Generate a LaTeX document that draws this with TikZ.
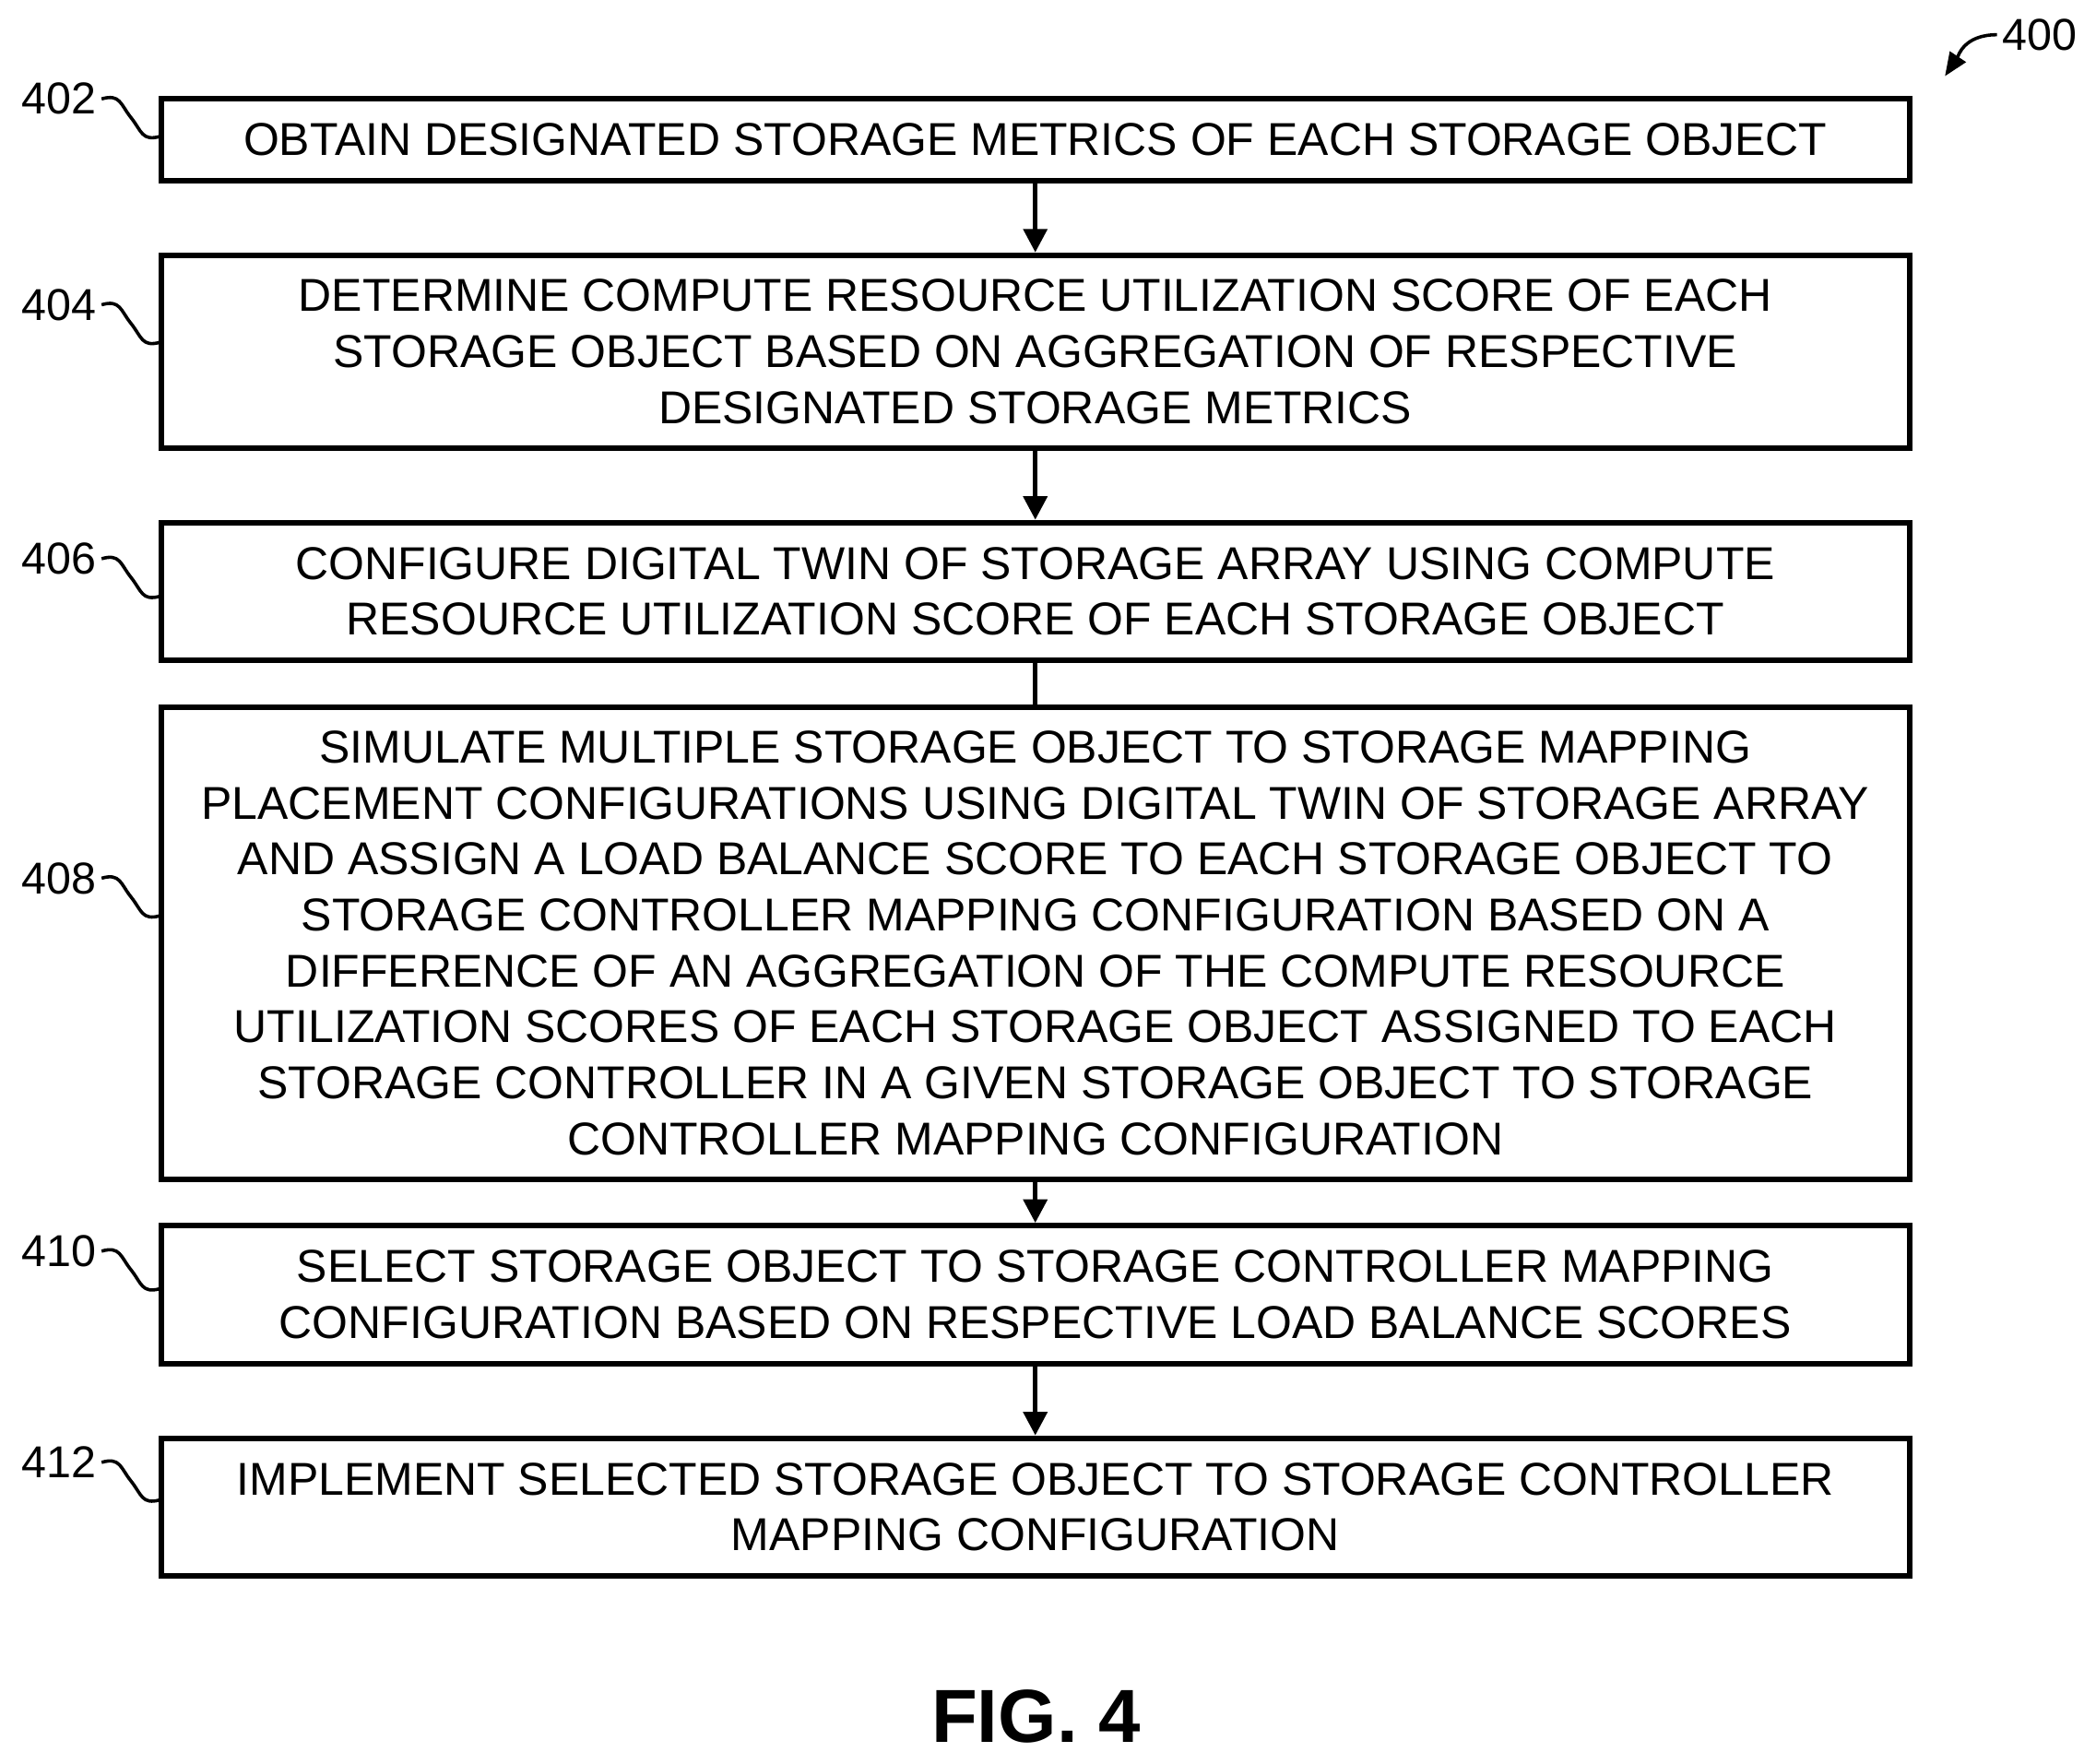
\documentclass[tikz,border=0pt]{standalone}
\usepackage{fontspec}
\setmainfont{Liberation Sans}
\usetikzlibrary{arrows.meta,positioning,calc}
\tikzset{
  stepbox/.style={draw, line width=1.2pt, minimum width=13.07cm, align=center,
               inner sep=0pt, font=\fontsize{9.8}{11.9}\selectfont},
  flow/.style={-{Triangle[length=5pt,width=5pt]}, line width=1pt},
  tag/.style={font=\fontsize{9.5}{11}\selectfont, inner sep=1pt},
  squig/.style={line width=0.7pt}
}
\begin{document}
\begin{tikzpicture}[x=0.01cm,y=-0.01cm]
  \useasboundingbox (0,0) rectangle (1568,1319);

  \node (s402) [stepbox, minimum height=0.61cm] at (774.5,104.5)
    {OBTAIN DESIGNATED STORAGE METRICS OF EACH STORAGE OBJECT};
  \node (s404) [stepbox, minimum height=1.44cm] at (774.5,263)
    {DETERMINE COMPUTE RESOURCE UTILIZATION SCORE OF EACH\\
     STORAGE OBJECT BASED ON AGGREGATION OF RESPECTIVE\\
     DESIGNATED STORAGE METRICS};
  \node (s406) [stepbox, minimum height=1.03cm] at (774.5,442.5)
    {CONFIGURE DIGITAL TWIN OF STORAGE ARRAY USING COMPUTE\\
     RESOURCE UTILIZATION SCORE OF EACH STORAGE OBJECT};
  \node (s408) [stepbox, minimum height=3.53cm] at (774.5,705.5)
    {SIMULATE MULTIPLE STORAGE OBJECT TO STORAGE MAPPING\\
     PLACEMENT CONFIGURATIONS USING DIGITAL TWIN OF STORAGE ARRAY\\
     AND ASSIGN A LOAD BALANCE SCORE TO EACH STORAGE OBJECT TO\\
     STORAGE CONTROLLER MAPPING CONFIGURATION BASED ON A\\
     DIFFERENCE OF AN AGGREGATION OF THE COMPUTE RESOURCE\\
     UTILIZATION SCORES OF EACH STORAGE OBJECT ASSIGNED TO EACH\\
     STORAGE CONTROLLER IN A GIVEN STORAGE OBJECT TO STORAGE\\
     CONTROLLER MAPPING CONFIGURATION};
  \node (s410) [stepbox, minimum height=1.03cm] at (774.5,968.5)
    {SELECT STORAGE OBJECT TO STORAGE CONTROLLER MAPPING\\
     CONFIGURATION BASED ON RESPECTIVE LOAD BALANCE SCORES};
  \node (s412) [stepbox, minimum height=1.03cm] at (774.5,1127.5)
    {IMPLEMENT SELECTED STORAGE OBJECT TO STORAGE CONTROLLER\\
     MAPPING CONFIGURATION};

  \draw [flow] (s402) -- (s404);
  \draw [flow] (s404) -- (s406);
  \draw [line width=1pt] (s406) -- (s408);
  \draw [flow] (s408) -- (s410);
  \draw [flow] (s410) -- (s412);

  % reference tags
  \foreach \n/\y in {402/74, 404/228, 406/418, 408/657, 410/936, 412/1094} {
    \node (t\n) [tag, anchor=east] at (76,\y) {\n};
    \coordinate (e\n) at (120,\y+28);
    \draw [squig] (t\n.east) .. controls +(14,-4) and +(-8,-10) .. ($(t\n.east)!0.5!(e\n)$)
          .. controls +(8,10) and +(-14,4) .. (e\n);
  }

  \node (t400) [tag] at (1526,26) {400};
  \coordinate (p400) at (1455,57);
  \draw [squig, -{Triangle[length=5pt,width=4pt]}] (t400.west) .. controls +(-25,0) and +(10,-15) .. (p400);

  \node (fig) [font=\fontsize{16}{20}\selectfont\bfseries] at (775,1284) {FIG. 4};
\end{tikzpicture}
\end{document}
